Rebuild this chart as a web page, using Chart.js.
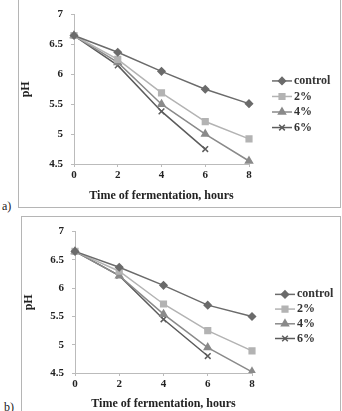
<!DOCTYPE html>
<html>
<head>
<meta charset="utf-8">
<script src="https://cdn.jsdelivr.net/npm/chart.js@4.4.1/dist/chart.umd.min.js"></script>
<style>
  body { margin: 0; background: #fff; width: 342px; height: 411px; overflow: hidden; position: relative; font-family: "Liberation Serif", serif; }
  .box { position: absolute; border: 1px solid #b5b5b5; box-sizing: border-box; background: #fff; }
  .tag { position: absolute; font-size: 12px; color: #222; }
</style>
</head>
<body>
<div class="box" style="left:18px; top:-1px; width:323px; height:209px;"><canvas id="chartA" width="321" height="207"></canvas></div>
<div class="tag" style="left:2px; top:199px;">a)</div>
<div class="box" style="left:21px; top:216px; width:320px; height:200px;"><canvas id="chartB" width="318" height="198"></canvas></div>
<div class="tag" style="left:4px; top:400px;">b)</div>
<script>
const hours = ['0', '2', '4', '6', '8'];
const seriesNames = ['control', '2%', '4%', '6%'];

// chart a
const controlA = [6.65, 6.37, 6.05, 5.75, 5.51];
const twoA = [6.65, 6.25, 5.69, 5.21, 4.92];
const fourA = [6.65, 6.20, 5.50, 5.00, 4.55];
const sixA = [6.65, 6.15, 5.38, 4.75, null];

// chart b
const controlB = [6.65, 6.37, 6.05, 5.70, 5.50];
const twoB = [6.65, 6.30, 5.72, 5.25, 4.89];
const fourB = [6.65, 6.22, 5.54, 4.95, 4.52];
const sixB = [6.65, 6.22, 5.45, 4.80, null];

const yTicks = [4.5, 5, 5.5, 6, 6.5, 7];

const styles = [
    { color: '#6b6b6b', point: 'rectRot', radius: 3.5 },
    { color: '#b3b3b3', point: 'rect', radius: 4 },
    { color: '#8a8a8a', point: 'triangle', radius: 4 },
    { color: '#5c5c5c', point: 'crossRot', radius: 4 }
];

const serif = '"Liberation Serif", "Times New Roman", serif';
const fontBold = { family: serif, weight: 'bold', size: 11 };

const legendPlugin = {
    id: 'sideLegend',
    afterDraw(chart) {
        const ctx = chart.ctx;
        const area = chart.chartArea;
        const h = area.bottom - area.top;
        const x0 = area.right + 23;
        ctx.save();
        chart.data.datasets.forEach((ds, i) => {
            const y = area.top + h * (0.444 + 0.104 * i);
            const st = styles[i];
            ctx.strokeStyle = st.color;
            ctx.fillStyle = st.color;
            ctx.lineWidth = 1.5;
            ctx.beginPath();
            ctx.moveTo(x0, y);
            ctx.lineTo(x0 + 20, y);
            ctx.stroke();
            Chart.helpers.drawPoint(ctx, {
                pointStyle: st.point, radius: st.radius, borderWidth: 1.5, rotation: 0
            }, x0 + 10, y);
            ctx.fillStyle = '#333';
            ctx.font = 'bold 12px ' + serif;
            ctx.textBaseline = 'middle';
            ctx.fillText(ds.label, x0 + 22, y);
        });
        ctx.restore();
    }
};

function makeChart(id, values, yWidth, xHeight, rightPad, topPad) {
    const datasets = values.map((vals, i) => ({
        label: seriesNames[i],
        data: vals,
        borderColor: styles[i].color,
        backgroundColor: styles[i].color,
        pointStyle: styles[i].point,
        pointRadius: styles[i].radius,
        pointBorderWidth: 1.5,
        borderWidth: 1.5,
        tension: 0,
        fill: false,
        spanGaps: false
    }));
    return new Chart(document.getElementById(id), {
        type: 'line',
        data: { labels: hours, datasets: datasets },
        options: {
            responsive: false,
            animation: false,
            layout: { padding: { top: topPad, right: rightPad, left: 0, bottom: 0 } },
            plugins: { legend: { display: false }, tooltip: { enabled: false } },
            scales: {
                x: {
                    offset: false,
                    grid: { display: true, drawOnChartArea: false, drawTicks: true, tickLength: 3, color: '#bbb' },
                    border: { color: '#bbb' },
                    ticks: { color: '#222', font: fontBold, padding: 2, maxRotation: 0 },
                    title: { display: true, text: 'Time of fermentation, hours', color: '#222',
                             font: { family: serif, weight: 'bold', size: 12 }, padding: { top: 2 } },
                    afterFit(scale) { scale.height = xHeight; }
                },
                y: {
                    min: 4.5, max: 7,
                    afterBuildTicks(scale) { scale.ticks = yTicks.map(v => ({ value: v })); },
                    grid: { display: true, drawOnChartArea: false, drawTicks: true, tickLength: 3, color: '#bbb' },
                    border: { color: '#bbb' },
                    ticks: { color: '#222', font: fontBold, padding: 8, callback: v => String(v) },
                    title: { display: true, text: 'pH', color: '#222',
                             font: { family: serif, weight: 'bold', size: 12 }, padding: 0 },
                    afterFit(scale) { scale.width = yWidth; }
                }
            }
        },
        plugins: [legendPlugin]
    });
}

makeChart('chartA', [controlA, twoA, fourA, sixA], 55, 43, 91, 11);
makeChart('chartB', [controlB, twoB, fourB, sixB], 53, 42, 88, 8);
</script>
</body>
</html>
